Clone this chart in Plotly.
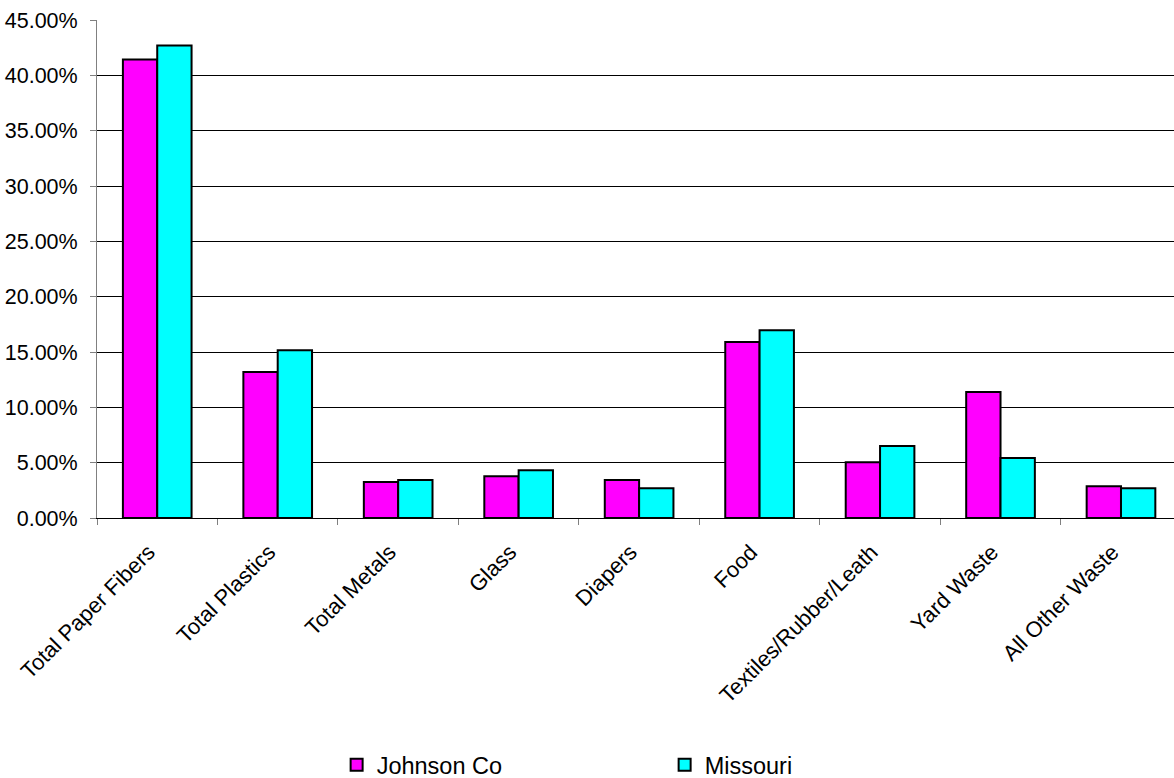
import plotly.graph_objects as go

categories = ["Total Paper Fibers", "Total Plastics", "Total Metals", "Glass", "Diapers",
              "Food", "Textiles/Rubber/Leath", "Yard Waste", "All Other Waste"]
johnson_co = [0.4142, 0.1319, 0.0325, 0.0377, 0.0343, 0.1590, 0.0503, 0.1139, 0.0286]
missouri = [0.4269, 0.1515, 0.0343, 0.0431, 0.0268, 0.1696, 0.0650, 0.0542, 0.0268]
series_names = ["Johnson Co", "Missouri"]
y_ticks = [0, 0.05, 0.10, 0.15, 0.20, 0.25, 0.30, 0.35, 0.40, 0.45]

FONT = "Liberation Sans, Arial, sans-serif"

fig = go.Figure()
fig.add_trace(go.Bar(x=categories, y=johnson_co, name=series_names[0],
                     marker=dict(color="#FF00FF", line=dict(color="black", width=2))))
fig.add_trace(go.Bar(x=categories, y=missouri, name=series_names[1],
                     marker=dict(color="#00FFFF", line=dict(color="black", width=2))))

fig.update_layout(
    width=1174, height=778,
    margin=dict(l=97, r=0, t=20, b=260, autoexpand=False),
    paper_bgcolor="white", plot_bgcolor="white",
    barmode="group", bargap=0.43, bargroupgap=0,
    font=dict(family=FONT, size=20, color="black"),
    showlegend=True,
    legend=dict(orientation="h", x=0.2225, xanchor="left", y=-0.496, yanchor="middle",
                font=dict(family=FONT, size=23.5), entrywidth=283, entrywidthmode="pixels",
                itemsizing="constant", traceorder="normal"),
)
fig.update_xaxes(
    type="category", range=[-0.5, 8.44], automargin=False,
    tickmode="array", tickvals=categories,
    ticktext=[c + "\u00a0\u00a0" for c in categories],
    tickangle=-45, tickson="boundaries", ticks="outside", ticklen=6,
    tickcolor="#808080", showline=True, linecolor="black", linewidth=1,
    showgrid=False, tickfont=dict(family=FONT, size=22), ticklabelstandoff=3,
)
fig.update_yaxes(
    range=[0, 0.45], tickvals=y_ticks, tickformat=".2%", automargin=False,
    ticks="outside", ticklen=6, tickcolor="#808080",
    showline=True, linecolor="#808080", linewidth=1,
    showgrid=True, gridcolor="black", gridwidth=1, zeroline=False,
    tickfont=dict(family=FONT, size=21.5), ticklabelstandoff=8,
)

fig.write_html("out.html", config={"displayModeBar": False},
               post_script="document.body.style.margin='0';")
